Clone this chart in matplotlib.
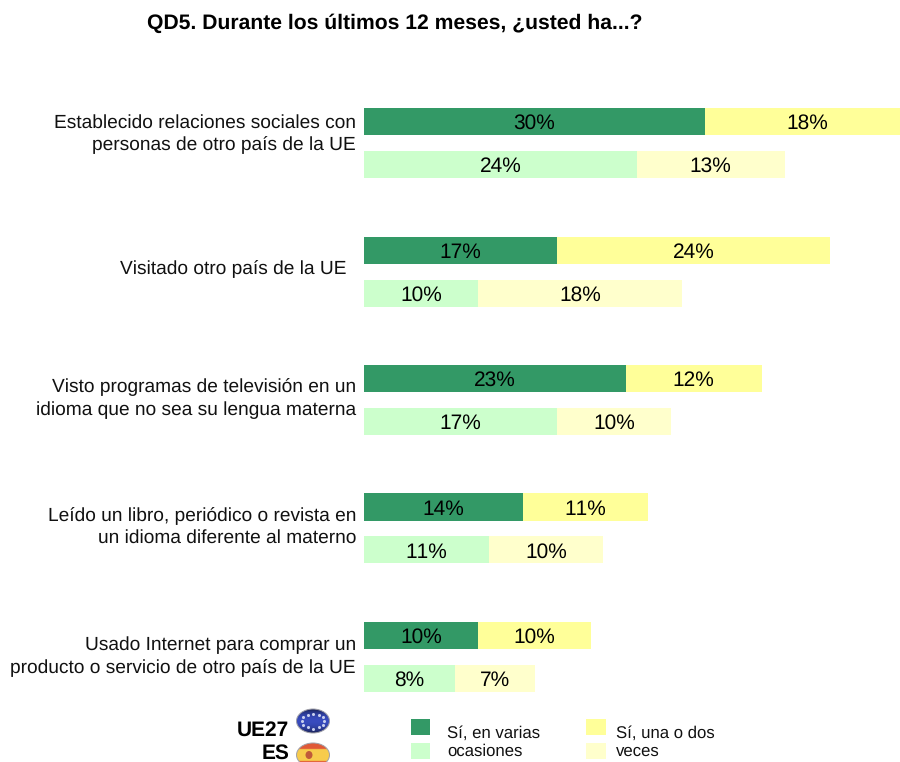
import matplotlib

matplotlib.use('Agg')

import matplotlib.pyplot as plt
import numpy as np
from matplotlib.patches import Ellipse, Rectangle

categories = ['Establecido relaciones sociales con\npersonas de otro país de la UE',
              'Visitado otro país de la UE',
              'Visto programas de televisión en un\nidioma que no sea su lengua materna',
              'Leído un libro, periódico o revista en\nun idioma diferente al materno',
              'Usado Internet para comprar un\nproducto o servicio de otro país de la UE']
ue_varias = [30, 17, 23, 14, 10]
ue_una = [18, 24, 12, 11, 10]
es_varias = [24, 10, 17, 11, 8]
es_una = [13, 18, 10, 10, 7]

title = 'QD5. Durante los últimos 12 meses, ¿usted ha...?'
legend_left = 'Sí, en varias\nocasiones'
legend_right = 'Sí, una o dos\nveces'

DARK_GREEN = '#339966'
LIGHT_GREEN = '#CCFFCC'
YELLOW = '#FFFF99'
PALE_YELLOW = '#FFFFCC'

W, H = 900, 762

plt.rcParams['font.family'] = ['Liberation Sans', 'DejaVu Sans']
plt.rcParams['text.kerning_factor'] = 6
plt.rcParams['text.hinting'] = 'no_hinting'


def fx(px):
    return px / W


def fy(px):
    return 1 - px / H


def draw_flag(fig, cx, cy, kind):
    # small glossy round badge next to the legend labels
    ax = fig.add_axes([fx(cx - 18), fy(cy + 13), 36 / W, 26 / H])
    ax.set_xlim(-18, 18)
    ax.set_ylim(-13, 13)
    ax.axis('off')
    clip = Ellipse((0, 0), 33, 24, transform=ax.transData)
    yy = np.linspace(1, -1, 40).reshape(-1, 1)
    if kind == 'eu':
        base = np.array([0.2, 0.27, 0.68])
        img = np.clip(base[None, None, :] * (1.1 - 0.6 * np.abs(yy[..., None]) ** 2), 0, 1)
    else:
        band = np.where(np.abs(yy) < 0.5, 1, 0)
        img = np.where(band[..., None] == 1, np.array([0.97, 0.8, 0.3]), np.array([0.88, 0.35, 0.22]))
    im = ax.imshow(img, extent=(-17, 17, -12, 12), aspect='auto', interpolation='bilinear')
    im.set_clip_path(clip)
    ax.add_patch(Ellipse((0, 0), 33, 24, fill=False, ec='#a0a0a8', lw=0.7))
    if kind == 'eu':
        angles = np.arange(12) * np.pi / 6
        ax.plot(11 * np.cos(angles), 7.5 * np.sin(angles), ls='', marker='o', ms=1.2, color='#c8cfee')
    else:
        ax.add_patch(Ellipse((-4, 0), 7, 8, fc='#c05a3a', ec='none'))


fig = plt.figure(figsize=(W / 100, H / 100), dpi=100)

# axes run from the bar baseline to the right edge, the first row of bars runs off it
ax = fig.add_axes([fx(364), fy(710), (900 - 364) / W, (710 - 90) / H])
px_per_pct = 11.37
ax.set_xlim(0, (900 - 364) / px_per_pct)
pitch = 128.5
ax.set_ylim((710 - 143) / pitch, (90 - 143) / pitch)
ax.axis('off')

y = np.arange(len(categories))
bar_h = 27 / pitch
off = 21.5 / pitch
text_off = 2 / pitch

ax.barh(y - off, ue_varias, height=bar_h, color=DARK_GREEN)
ax.barh(y - off, ue_una, left=ue_varias, height=bar_h, color=YELLOW)
ax.barh(y + off, es_varias, height=bar_h, color=LIGHT_GREEN)
ax.barh(y + off, es_una, left=es_varias, height=bar_h, color=PALE_YELLOW)

for i in y:
    yt = i - off + text_off
    yb = i + off + text_off
    ax.text(ue_varias[i] / 2, yt, '%d%%' % ue_varias[i], ha='center', va='center', fontsize=15)
    ax.text(ue_varias[i] + ue_una[i] / 2, yt, '%d%%' % ue_una[i], ha='center', va='center', fontsize=15)
    ax.text(es_varias[i] / 2, yb, '%d%%' % es_varias[i], ha='center', va='center', fontsize=15)
    ax.text(es_varias[i] + es_una[i] / 2, yb, '%d%%' % es_una[i], ha='center', va='center', fontsize=15)

# category labels sit left of the bars
label_y = [134, 269, 398.5, 527, 656.5]
for i, label in enumerate(categories):
    right = 346 if i == 1 else 356
    fig.text(fx(right), fy(label_y[i]), label, ha='right', va='center',
             fontsize=13.75, linespacing=1.35, color='#111111')

fig.text(fx(147), fy(23), title, ha='left', va='center', fontsize=15.2, fontweight='bold')

# legend
fig.text(fx(289), fy(730), 'UE27', ha='right', va='center', fontsize=15, fontweight='bold')
fig.text(fx(289), fy(753), 'ES', ha='right', va='center', fontsize=15, fontweight='bold')
draw_flag(fig, 313, 721, 'eu')
draw_flag(fig, 313, 755, 'es')

for x0, x1, y0, y1, color in [(411, 430, 719, 735, DARK_GREEN), (411, 430, 743, 759, LIGHT_GREEN),
                              (586, 606, 719, 735, YELLOW), (586, 606, 743, 759, PALE_YELLOW)]:
    fig.add_artist(Rectangle((fx(x0), fy(y1)), (x1 - x0) / W, (y1 - y0) / H, transform=fig.transFigure,
                             fc=color, ec='none'))

fig.text(fx(447), fy(742.5), legend_left, ha='left', va='center', fontsize=12.1, linespacing=1.2, color='#111111')
fig.text(fx(616), fy(742.5), legend_right, ha='left', va='center', fontsize=12.1, linespacing=1.2, color='#111111')

fig.savefig('out.png', dpi=100)
